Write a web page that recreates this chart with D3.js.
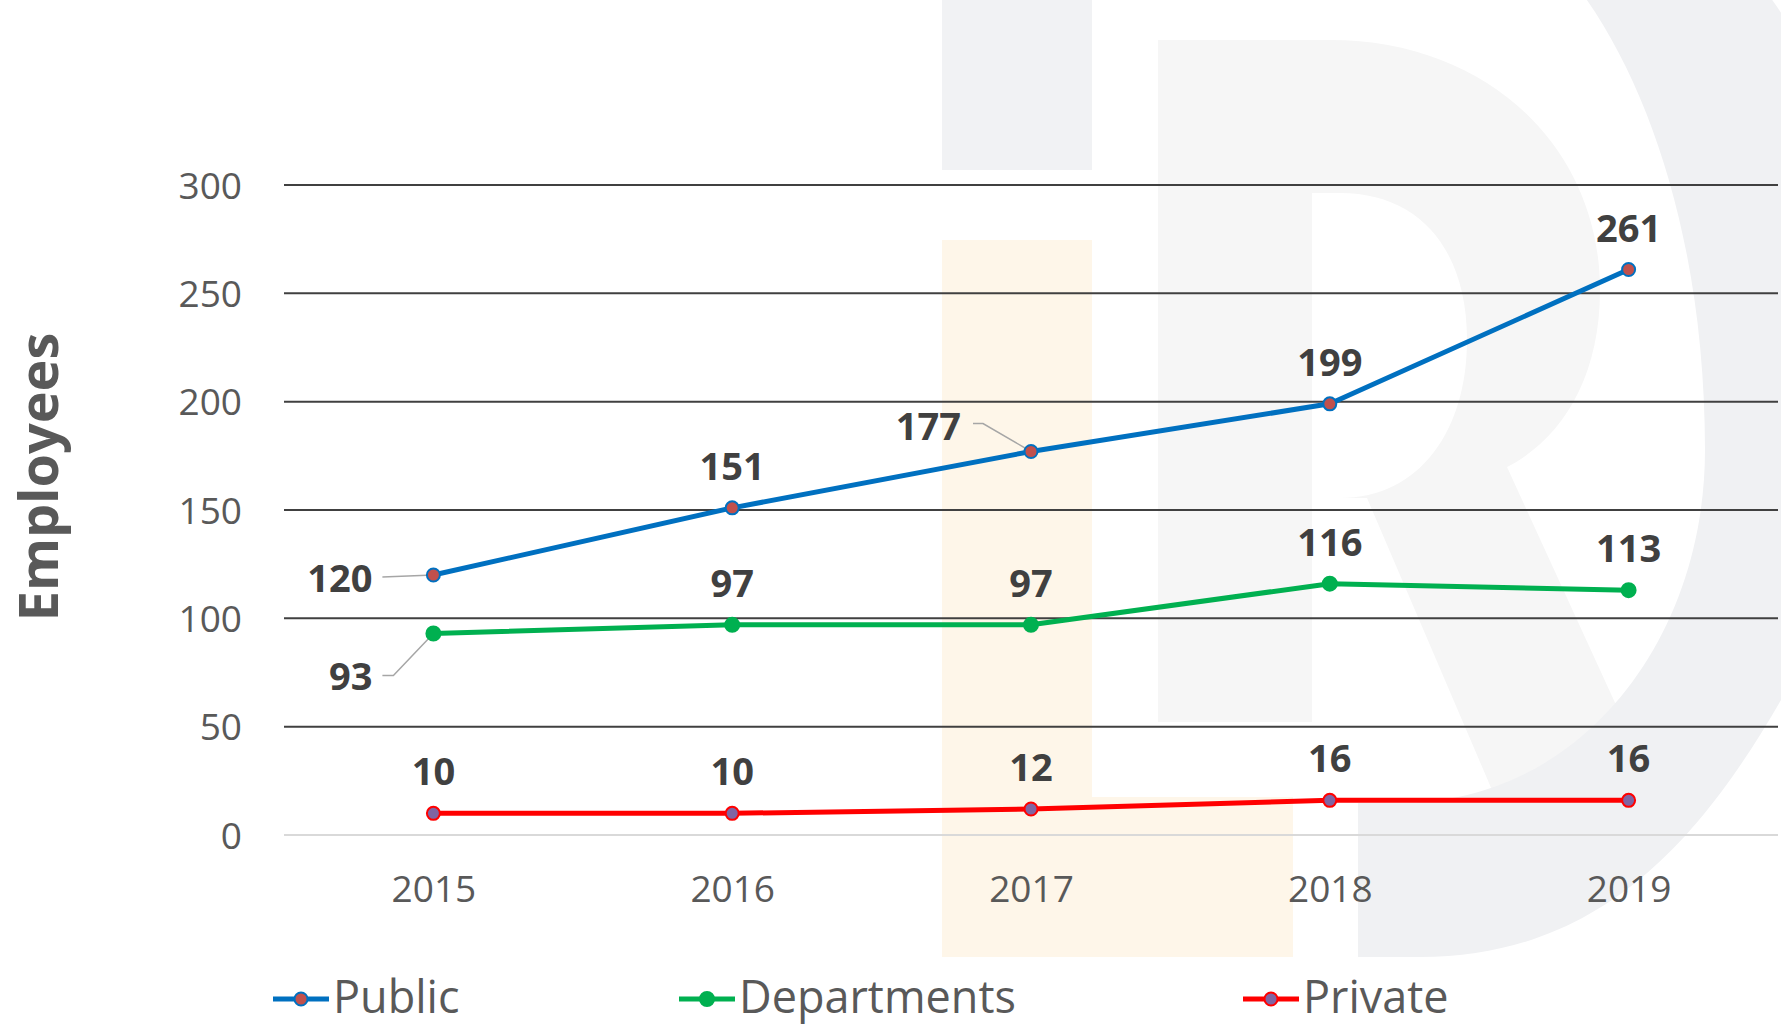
<!DOCTYPE html>
<html>
<head>
<meta charset="utf-8">
<script src="https://cdn.jsdelivr.net/npm/d3@7"></script>
<style>
  html, body { margin: 0; padding: 0; background: #fff; }
  svg { display: block; }
</style>
</head>
<body>
<svg id="chart"></svg>
<script>
// data
const years = ["2015", "2016", "2017", "2018", "2019"];
const publicValues = [120, 151, 177, 199, 261];
const departmentValues = [93, 97, 97, 116, 113];
const privateValues = [10, 10, 12, 16, 16];
const yTicks = [0, 50, 100, 150, 200, 250, 300];
const seriesNames = ["Public", "Departments", "Private"];

const width = 1781;
const height = 1026;
const margin = { top: 185, right: 3, bottom: 191, left: 284 };

const series = [
  { name: seriesNames[0], values: publicValues, line: "#0070C0", fill: "#C0504D", r: 6.5 },
  { name: seriesNames[1], values: departmentValues, line: "#00B050", fill: "#00B050", r: 7 },
  { name: seriesNames[2], values: privateValues, line: "#FF0000", fill: "#8064A2", r: 6.5 }
];

// labels that Excel moved off their default spot (dx, dy from the point, anchor, leader line)
const labelMoves = {
  "Public-2015": { dx: -61, dy: 17, anchor: "end", leader: [[-51, 2], [0, 0]] },
  "Departments-2015": { dx: -61, dy: 56, anchor: "end", leader: [[-51, 42], [-40, 42], [0, 0]] },
  "Public-2017": { dx: -70, dy: -12, anchor: "end", leader: [[-58, -28], [-48, -28], [0, 0]] }
};

const svg = d3.select("#chart").attr("width", width).attr("height", height);

// faint logo watermark behind the plot
const wm = svg.append("g");
wm.append("rect").attr("x", 942).attr("y", 0).attr("width", 150).attr("height", 170).attr("fill", "#F1F2F4");
wm.append("path").attr("fill", "#FEF6E9")
  .attr("d", "M942,240 H1092 V797 H1293 V957 H942 Z");
wm.append("path").attr("fill", "#F6F6F6").attr("fill-rule", "evenodd")
  .attr("d", "M1158,40 H1330 C1490,40 1600,150 1600,290 C1600,380 1560,440 1507,467 L1655,790 H1492 L1367,498 H1312 V722 H1158 Z " +
             "M1312,193 H1340 C1420,193 1467,250 1467,340 C1467,430 1420,498 1340,498 H1312 Z");
wm.append("path").attr("fill", "#F0F1F3").attr("fill-rule", "evenodd")
  .attr("d", "M1358,-200 H1420 C1700,-200 1900,100 1900,420 C1900,560 1850,640 1781,700 C1700,840 1600,957 1420,957 H1358 Z " +
             "M1358,-120 H1400 C1560,-120 1705,120 1705,450 C1705,640 1580,803 1400,803 H1358 Z");

const x = d3.scalePoint()
  .domain(years)
  .range([margin.left, width - margin.right])
  .padding(0.5);

const y = d3.scaleLinear()
  .domain([0, 300])
  .range([height - margin.bottom, margin.top]);

// gridlines
svg.append("g")
  .selectAll("line")
  .data(yTicks)
  .join("line")
  .attr("x1", margin.left)
  .attr("x2", width - margin.right)
  .attr("y1", (d) => y(d))
  .attr("y2", (d) => y(d))
  .attr("stroke", (d) => (d === 0 ? "#D9D9D9" : "#404040"))
  .attr("stroke-width", 2);

// y axis
svg.append("g")
  .attr("transform", `translate(${margin.left - 42},0)`)
  .call(d3.axisLeft(y).tickValues(yTicks).tickSize(0).tickPadding(0))
  .call((g) => g.select(".domain").remove())
  .call((g) => g.selectAll("text")
    .attr("fill", "#595959")
    .attr("font-family", "'Open Sans', sans-serif")
    .attr("font-size", 37)
    .attr("dy", "0.36em"));

// x axis
svg.append("g")
  .attr("transform", `translate(0,${height - margin.bottom})`)
  .call(d3.axisBottom(x).tickSize(0).tickPadding(0))
  .call((g) => g.select(".domain").remove())
  .call((g) => g.selectAll("text")
    .attr("fill", "#595959")
    .attr("font-family", "'Open Sans', sans-serif")
    .attr("font-size", 37)
    .attr("dy", "1.8em"));

// y axis title
svg.append("text")
  .attr("transform", `translate(58,477) rotate(-90)`)
  .attr("text-anchor", "middle")
  .attr("fill", "#595959")
  .attr("font-family", "'Open Sans', sans-serif")
  .attr("font-weight", "bold")
  .attr("font-size", 54)
  .text("Employees");

const line = d3.line()
  .x((d, i) => x(years[i]))
  .y((d) => y(d));

// lines
svg.append("g")
  .selectAll("path")
  .data(series)
  .join("path")
  .attr("fill", "none")
  .attr("stroke", (s) => s.line)
  .attr("stroke-width", 5)
  .attr("stroke-linejoin", "round")
  .attr("d", (s) => line(s.values));

// leader lines and labels
const labels = svg.append("g");
series.forEach((s) => {
  s.values.forEach((v, i) => {
    const px = x(years[i]);
    const py = y(v);
    const mv = labelMoves[`${s.name}-${years[i]}`];
    if (mv) {
      labels.append("path")
        .attr("fill", "none")
        .attr("stroke", "#A6A6A6")
        .attr("stroke-width", 1.5)
        .attr("d", d3.line()(mv.leader.map((p) => [px + p[0], py + p[1]])));
    }
    labels.append("text")
      .attr("x", px + (mv ? mv.dx : 0))
      .attr("y", py + (mv ? mv.dy : -28))
      .attr("text-anchor", mv ? mv.anchor : "middle")
      .attr("fill", "#404040")
      .attr("font-family", "'Open Sans', sans-serif")
      .attr("font-weight", "bold")
      .attr("font-size", 38)
      .text(v);
  });
});

// markers
svg.append("g")
  .selectAll("g")
  .data(series)
  .join("g")
  .each(function (s) {
    d3.select(this)
      .selectAll("circle")
      .data(s.values)
      .join("circle")
      .attr("cx", (d, i) => x(years[i]))
      .attr("cy", (d) => y(d))
      .attr("r", s.r)
      .attr("fill", s.fill)
      .attr("stroke", s.line)
      .attr("stroke-width", 2);
  });

// legend
const legendX = [273, 679, 1243];
const legend = svg.append("g")
  .selectAll("g")
  .data(series)
  .join("g")
  .attr("transform", (s, i) => `translate(${legendX[i]},999)`);
legend.append("line")
  .attr("x1", 0).attr("x2", 56)
  .attr("stroke", (s) => s.line)
  .attr("stroke-width", 5);
legend.append("circle")
  .attr("cx", 28)
  .attr("r", (s) => s.r)
  .attr("fill", (s) => s.fill)
  .attr("stroke", (s) => s.line)
  .attr("stroke-width", 2);
legend.append("text")
  .attr("x", 60)
  .attr("y", 14)
  .attr("fill", "#595959")
  .attr("font-family", "'Open Sans', sans-serif")
  .attr("font-size", 45)
  .text((s) => s.name);
</script>
</body>
</html>
